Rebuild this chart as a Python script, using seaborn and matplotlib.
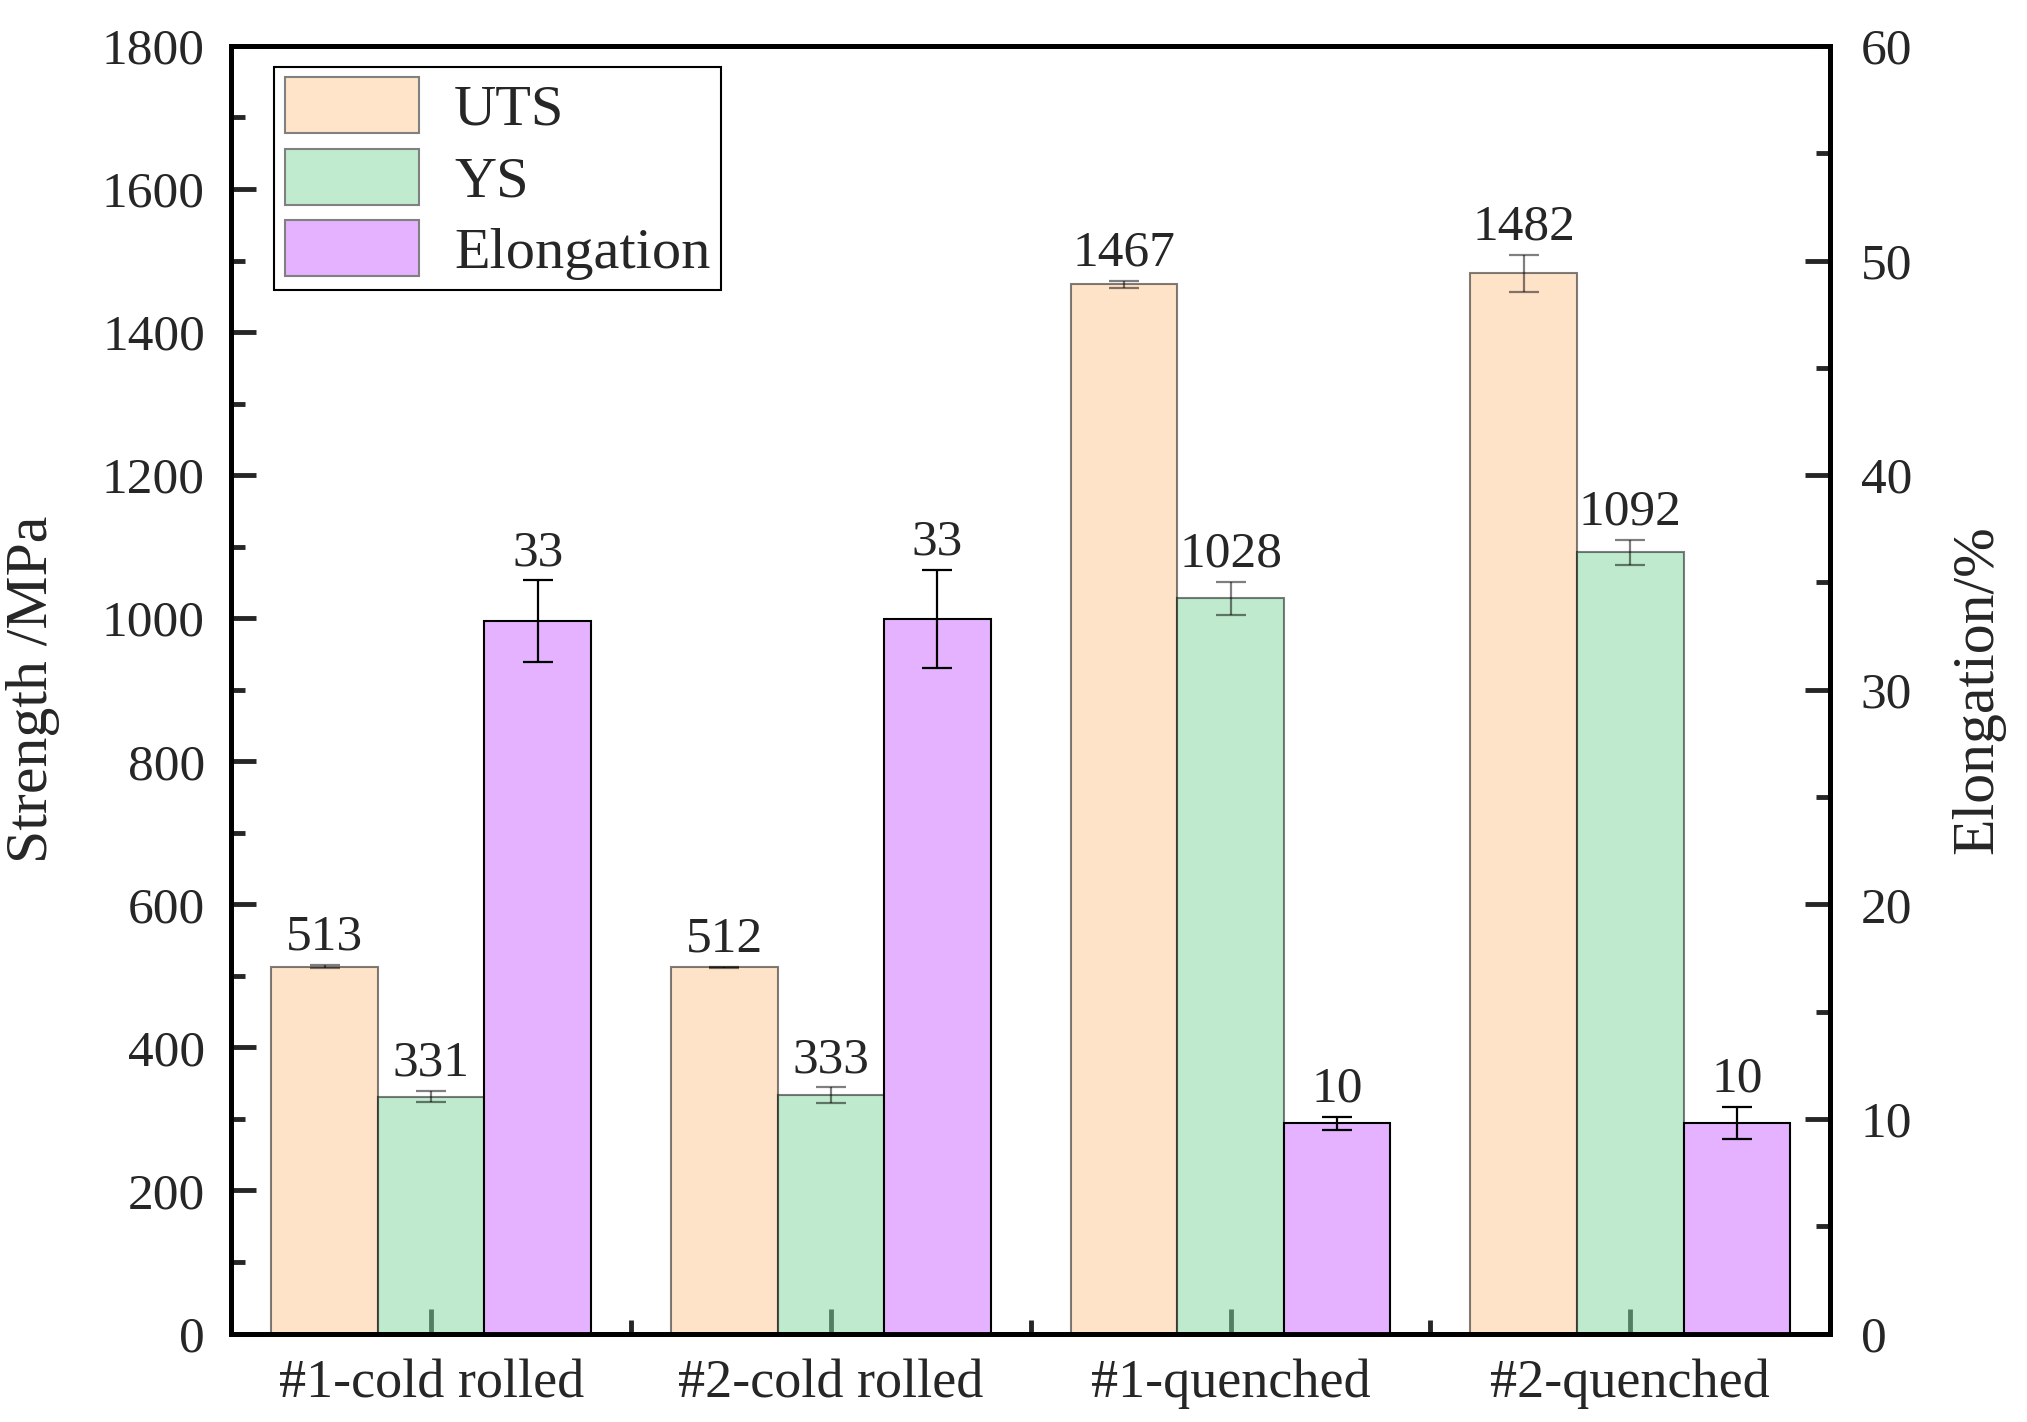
import numpy as np
import pandas as pd
import matplotlib
matplotlib.use("Agg")
import matplotlib.pyplot as plt
import seaborn as sns
from matplotlib.patches import Patch
from matplotlib.ticker import MultipleLocator, FixedLocator

# data
samples = ['#1-cold rolled', '#2-cold rolled', '#1-quenched', '#2-quenched']
metrics = ['UTS', 'YS', 'Elongation']
uts = [513, 512, 1467, 1482]
uts_err = [2, 1, 5, 26]
ys = [331, 333, 1028, 1092]
ys_err = [8, 11, 23, 17]
elong = [33.2, 33.3, 9.8, 9.8]
elong_err = [1.9, 2.3, 0.3, 0.75]
uts_labels = ['513', '512', '1467', '1482']
ys_labels = ['331', '333', '1028', '1092']
elong_labels = ['33', '33', '10', '10']

# colours as seen on white, and the base colours drawn at alpha 0.5
seen = {'UTS': '#ffe4ca', 'YS': '#c0ebcf', 'Elongation': '#e4b2fe'}
pal = {'UTS': '#ffc995', 'YS': '#81d79f', 'Elongation': '#e4b2fe'}

sns.set_style("ticks")
plt.rcParams['font.family'] = ['Liberation Serif', 'DejaVu Serif']
plt.rcParams['mathtext.fontset'] = 'stix'

df_str = pd.DataFrame({'Sample': samples * 2,
                       'Metric': ['UTS'] * 4 + ['YS'] * 4,
                       'Value': uts + ys})
df_el = pd.DataFrame({'Sample': samples,
                      'Metric': ['Elongation'] * 4,
                      'Value': elong})

fig = plt.figure(figsize=(20.27, 14.22), dpi=100)
ax = fig.add_axes([0.1141, 0.0622, 0.7888, 0.9055])
ax2 = ax.twinx()

sns.barplot(data=df_str, x='Sample', y='Value', hue='Metric', order=samples,
            hue_order=metrics, palette=pal, saturation=1, alpha=0.5,
            edgecolor='black', linewidth=1.5, errorbar=None, legend=False,
            width=0.8, dodge=True, ax=ax)
sns.barplot(data=df_el, x='Sample', y='Value', hue='Metric', order=samples,
            hue_order=metrics, palette=pal, saturation=1,
            edgecolor='black', linewidth=1.5, errorbar=None, legend=False,
            width=0.8, dodge=True, ax=ax2)
ax.set_axisbelow(True)

# error bars + value labels
def decorate(a, container, errs, labels, alpha):
    xs = [b.get_x() + b.get_width() / 2 for b in container]
    hs = [b.get_height() for b in container]
    a.errorbar(xs, hs, yerr=errs, fmt='none', ecolor='black', alpha=alpha,
               elinewidth=1.6, capsize=11, capthick=1.6, zorder=3)
    for x, h, e, lab in zip(xs, hs, errs, labels):
        a.annotate(lab, (x, h + e), xytext=(0, 11), textcoords='offset points',
                   ha='center', va='baseline', fontsize=37)

str_bars = [c for c in ax.containers if len(c)]
el_bars = [c for c in ax2.containers if len(c)]
decorate(ax, str_bars[0], uts_err, uts_labels, 0.5)
decorate(ax, str_bars[1], ys_err, ys_labels, 0.5)
decorate(ax2, el_bars[0], elong_err, elong_labels, 1.0)

ax.set_xlim(-0.5, 3.5)
ax.set_ylim(0, 1800)
ax2.set_ylim(0, 60)

ax.yaxis.set_major_locator(MultipleLocator(200))
ax.yaxis.set_minor_locator(MultipleLocator(100))
ax2.yaxis.set_major_locator(MultipleLocator(10))
ax2.yaxis.set_minor_locator(MultipleLocator(5))
ax.xaxis.set_major_locator(FixedLocator([0, 1, 2, 3]))
ax.set_xticklabels(samples)
ax.xaxis.set_minor_locator(FixedLocator([0.5, 1.5, 2.5]))

ax.tick_params(axis='both', which='major', direction='in', length=18, width=3.5,
               labelsize=37, pad=19, top=False, right=False)
ax.tick_params(axis='both', which='minor', direction='in', length=10, width=3.5,
               top=False, right=False)
ax.tick_params(axis='x', which='major', labelsize=39, pad=18)
ax2.tick_params(axis='y', which='major', direction='in', length=18, width=3.5,
                labelsize=37, pad=22)
ax2.tick_params(axis='y', which='minor', direction='in', length=10, width=3.5)

for a in (ax, ax2):
    for s in a.spines.values():
        s.set_visible(True)
        s.set_linewidth(3.5)
        s.set_color('black')

ax.set_xlabel('')
ax2.set_xlabel('')
ax.set_ylabel('Strength /MPa', fontsize=43, labelpad=30)
ax2.set_ylabel('Elongation/%', fontsize=43, labelpad=28)

handles = [Patch(facecolor=seen[m], edgecolor='#808080', linewidth=1.5) for m in metrics]
leg = ax.legend(handles, metrics, loc='upper left', bbox_to_anchor=(0.027, 0.984),
                borderaxespad=0, fontsize=42, frameon=True, fancybox=False,
                edgecolor='black', framealpha=1, handlelength=2.3, handleheight=1.1,
                labelspacing=0.2, handletextpad=0.6, borderpad=0.18)
leg.get_frame().set_linewidth(1.5)
leg.set_zorder(10)

fig.savefig('out.png', dpi=100)
